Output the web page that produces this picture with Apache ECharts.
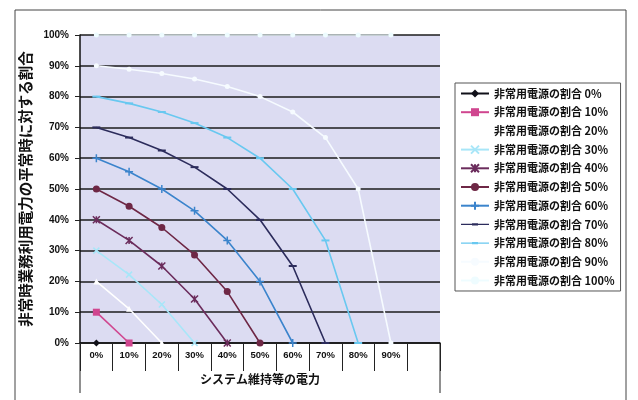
<!DOCTYPE html>
<html><head><meta charset="utf-8">
<script src="https://cdn.jsdelivr.net/npm/echarts@6/dist/echarts.min.js"></script>
<style>html,body{margin:0;padding:0;background:#fff}#c{width:638px;height:400px}</style>
</head><body><div id="c"></div>
<script>
const categories = ['0%','10%','20%','30%','40%','50%','60%','70%','80%','90%',''];
const yTicks = ['0%','10%','20%','30%','40%','50%','60%','70%','80%','90%','100%'];
const s0   = [0];
const s10  = [10, 0];
const s20  = [20, 11.1, 0];
const s30  = [30, 22.2, 12.5, 0];
const s40  = [40, 33.3, 25, 14.3, 0];
const s50  = [50, 44.4, 37.5, 28.6, 16.7, 0];
const s60  = [60, 55.6, 50, 42.9, 33.3, 20, 0];
const s70  = [70, 66.7, 62.5, 57.1, 50, 40, 25, 0];
const s80  = [80, 77.8, 75, 71.4, 66.7, 60, 50, 33.3, 0];
const s90  = [90, 88.9, 87.5, 85.7, 83.3, 80, 75, 66.7, 50, 0];
const s100 = [100, 100, 100, 100, 100, 100, 100, 100, 100, 100];
const seriesNames = ['非常用電源の割合 0%','非常用電源の割合 10%','非常用電源の割合 20%','非常用電源の割合 30%','非常用電源の割合 40%','非常用電源の割合 50%','非常用電源の割合 60%','非常用電源の割合 70%','非常用電源の割合 80%','非常用電源の割合 90%','非常用電源の割合 100%'];
const seriesData = [s0,s10,s20,s30,s40,s50,s60,s70,s80,s90,s100];

const colors = ['#101018','#d0468f','#ffffff','#a8e6f8','#6b2c5c','#6e2745','#3b84cc','#2c2c5c','#68c8f0','#f6fbff','#eefcff'];
const X = 'path://M0,0L10,10M10,0L0,10';
const STAR = 'path://M0,0L10,10M10,0L0,10M5,0L5,10';
const PLUS = 'path://M5,0L5,10M0,5L10,5';
const DASH = 'path://M0,0L10,0L10,2L0,2Z';
const DASH_LEGEND = 'path://M0,0L0.01,0L0.01,0.01Z M0,4.4L28,4.4L28,5.6L0,5.6Z M11,3.8L17,3.8L17,6.2L11,6.2Z M0,10L0.01,10L0.01,9.99Z';
const symbols = ['diamond','rect','triangle',X,STAR,'circle',PLUS,DASH,DASH,'circle','circle'];
const sizes = [7,7,6,6,7,7,8,[8,2],[8,2],5,5];

const chart = echarts.init(document.getElementById('c'), null, {renderer:'canvas'});
const series = seriesData.map((d,i)=>({
  name: seriesNames[i], type:'line', data:d,
  symbol: symbols[i], symbolSize: sizes[i], showSymbol:true,
  lineStyle:{color:colors[i], width:1.6},
  itemStyle:{color:colors[i], borderColor:colors[i], borderWidth:(symbols[i].indexOf('path')===0 && symbols[i]!==DASH)?1.5:0},
  animation:false, z: 3
}));
const legendData = seriesNames.map((n,i)=> symbols[i]===DASH ? {name:n, icon:DASH_LEGEND, itemStyle:{color:colors[i], borderWidth:0}} : n);

chart.setOption({
  animation:false,
  backgroundColor:'#ffffff',
  grid:{left:80, right:198, top:35, bottom:57, show:true, backgroundColor:'#dcdcf2', borderWidth:0},
  xAxis:{type:'category', data:categories, boundaryGap:true,
    axisLine:{lineStyle:{color:'#111', width:1.5}},
    axisTick:{show:true, length:28, interval:0, lineStyle:{color:'#222', width:1}},
    axisLabel:{interval:0, margin:7, color:'#111', fontSize:9.5, fontWeight:'bold', fontFamily:'Liberation Sans'},
    name:'システム維持等の電力', nameLocation:'middle', nameGap:30,
    nameTextStyle:{fontSize:12, fontWeight:'bold', color:'#111', fontFamily:'Noto Sans CJK JP'}
  },
  yAxis:{type:'value', min:0, max:100, interval:10,
    axisLine:{show:true, lineStyle:{color:'#111', width:1.5}},
    axisTick:{show:true, length:5, lineStyle:{color:'#222'}},
    splitLine:{show:true, lineStyle:{color:'#1c1c1c', width:1.5}},
    axisLabel:{margin:11, color:'#111', fontSize:10, fontWeight:'bold', fontFamily:'Liberation Sans', formatter:(v)=>yTicks[Math.round(v/10)]},
    name:'非常時業務利用電力の平常時に対する割合', nameLocation:'middle', nameGap:43, nameRotate:90,
    nameTextStyle:{fontSize:14.5, fontWeight:'bold', color:'#111', fontFamily:'Noto Sans CJK JP'}
  },
  legend:{orient:'vertical', left:455, top:83, width:165,
    padding:[5,6,5,5], itemGap:7.7, itemWidth:28, itemHeight:10,
    borderColor:'#555', borderWidth:1, backgroundColor:'#fff',
    textStyle:{fontSize:11, fontWeight:'bold', color:'#111', fontFamily:'Noto Sans CJK JP', lineHeight:10},
    data: legendData
  },
  graphic:[
    {type:'rect', shape:{x:15, y:10, width:611, height:400}, style:{fill:null, stroke:'#444', lineWidth:1}, silent:true, z:-1},
    {type:'line', shape:{x1:80, y1:343, x2:80, y2:393}, style:{stroke:'#222', lineWidth:1}, silent:true},
    {type:'line', shape:{x1:440, y1:343, x2:440, y2:393}, style:{stroke:'#222', lineWidth:1}, silent:true}
  ],
  series: series
});
</script></body></html>
